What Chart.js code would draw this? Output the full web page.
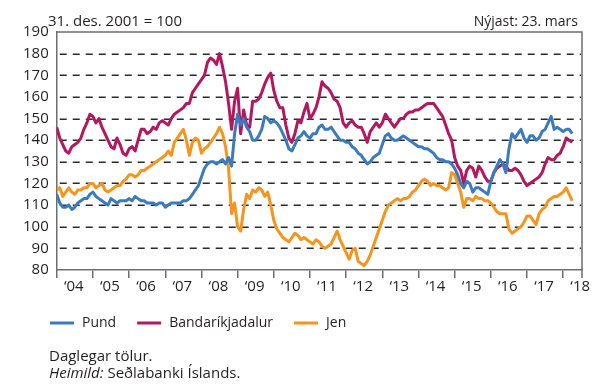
<!DOCTYPE html>
<html lang="is">
<head>
<meta charset="utf-8">
<script src="https://cdn.jsdelivr.net/npm/chart.js@4.4.1/dist/chart.umd.min.js"></script>
<style>
  html, body { margin: 0; padding: 0; background: #fff; }
  #wrap { width: 592px; height: 385px; }
</style>
</head>
<body>
<div id="wrap"><canvas id="gengi" width="592" height="385"></canvas></div>
<script>
// Mánaðargildi frá janúar 2004, vísitala (31. des. 2001 = 100)
var upphafsAr = 2004;

var pund = [
  115,111,109,109,110,108,109,111,112,113,113,115,
  116,114,113,112,111,110,113,112,111,112,112,112,
  113,112,114,113,112,112,111,111,111,110,111,111,
  109,110,111,111,111,111,112,112,113,115,117,119,
  123,127,129,130,130,129,130,131,129,132,128,143,
  152,147,150,146,144,140,140,142,145,151,150,148,
  149,148,146,143,140,136,135,138,141,142,144,142,
  141,143,143,146,147,145,145,146,144,142,140,140,
  139,139,137,136,134,133,131,129,130,132,133,134,
  138,142,143,141,140,140,141,142,141,140,139,138,
  137,137,136,136,135,134,132,131,131,130,130,129,
  127,124,120,118,121,120,116,118,118,117,116,115,
  121,125,128,131,129,125,136,143,141,143,145,141,
  139,142,142,140,141,144,145,148,151,145,146,145,
  144,145,145,143
];

var dollar = [
  146,141,138,135,134,137,138,139,141,145,148,152,
  151,148,150,146,143,140,137,136,141,138,134,133,
  136,137,135,140,145,145,143,144,146,145,148,149,
  148,147,150,152,153,154,155,157,157,162,164,166,
  168,170,176,178,177,175,180,174,167,157,145,158,
  164,143,154,147,146,158,158,159,162,166,169,171,
  163,158,155,155,147,141,139,143,149,148,153,157,
  150,152,155,160,167,165,164,162,159,158,155,148,
  146,148,149,147,146,146,143,139,144,146,148,146,
  148,152,150,148,146,148,150,150,152,153,153,154,
  154,155,156,157,157,157,155,153,151,147,143,140,
  132,128,126,120,126,128,127,123,128,126,123,121,
  121,125,127,128,129,128,126,126,127,126,124,121,
  119,120,121,122,123,125,129,132,131,131,133,134,
  137,141,140,139
];

var jen = [
  117,118,114,116,118,116,115,117,117,118,118,120,
  120,118,119,120,117,116,117,118,119,119,121,122,
  124,124,123,124,126,126,127,128,129,130,131,132,
  133,135,133,139,141,143,145,140,133,139,141,140,
  134,136,137,139,141,143,146,143,137,127,106,111,
  100,98,108,115,113,117,116,118,117,114,116,110,
  103,99,97,95,94,93,95,97,96,94,95,94,
  93,92,94,93,91,90,91,92,95,98,94,91,
  88,85,89,90,84,83,82,84,87,91,95,99,
  103,107,110,111,112,113,112,113,113,114,116,117,
  119,121,122,121,119,120,119,119,118,117,118,125,
  124,120,116,109,113,113,112,114,113,113,112,112,
  111,109,107,106,106,106,99,97,98,99,100,102,
  105,105,103,101,106,108,109,112,113,114,114,115,
  116,118,115,112
];

var arMerki = [2004,2005,2006,2007,2008,2009,2010,2011,2012,2013,2014,2015,2016,2017,2018];
var heiti = ["Pund", "Bandaríkjadalur", "Jen"];
var litir = ["#3a7bbf", "#b5175e", "#f7941e"];

var grunnur = "31. des. 2001 = 100";
var nyjast = "Nýjast: 23. mars";
var skyring = "Daglegar tölur.";

var letur = '"Open Sans", "DejaVu Sans", sans-serif';
var textalitur = "#231f20";
var asalitur = "#6d6e71";

function punktar(gildi) {
  return gildi.map(function(v, i) { return { x: upphafsAr + i / 12, y: v }; });
}

// Strikaðar hjálparlínur undir ferlunum, teiknaðar strik fyrir strik
var hjalparlinur = {
  id: "hjalparlinur",
  beforeDatasetsDraw: function(chart) {
    var ctx = chart.ctx, a = chart.chartArea, y = chart.scales.y;
    ctx.save();
    ctx.fillStyle = "#2a2a2a";
    for (var v = y.min + 10; v < y.max; v += 10) {
      var py = Math.round(y.getPixelForValue(v));
      for (var px = a.left + 3; px < a.right - 2; px += 13) {
        ctx.fillRect(px, py - 0.5, Math.min(7, a.right - 1 - px), 1.5);
      }
    }
    ctx.restore();
  }
};

// Rammi utan um teiknisvæðið, skýringar, yfirskriftir og heimild
var rammi = {
  id: "rammi",
  afterDraw: function(chart) {
    var ctx = chart.ctx, a = chart.chartArea;
    ctx.save();
    ctx.strokeStyle = asalitur;
    ctx.lineWidth = 1.5;
    ctx.beginPath();
    ctx.moveTo(a.left, a.top);
    ctx.lineTo(a.right, a.top);
    ctx.lineTo(a.right, a.bottom + 8);
    ctx.stroke();

    ctx.fillStyle = textalitur;
    ctx.textBaseline = "alphabetic";
    ctx.font = "15px " + letur;
    ctx.textAlign = "left";
    ctx.fillText(grunnur, 48, 26);
    ctx.font = "14px " + letur;
    ctx.textAlign = "right";
    ctx.fillText(nyjast, 578, 26);

    // skýringar undir myndinni
    var x = 50, yy = 323;
    ctx.textAlign = "left";
    ctx.textBaseline = "middle";
    ctx.font = "14px " + letur;
    chart.data.datasets.forEach(function(ds) {
      ctx.fillStyle = ds.borderColor;
      ctx.fillRect(x, yy - 1.5, 24, 3);
      ctx.fillStyle = textalitur;
      ctx.fillText(ds.label, x + 32, yy);
      x += 32 + ctx.measureText(ds.label).width + 21;
    });

    ctx.textBaseline = "alphabetic";
    ctx.font = "15px " + letur;
    ctx.fillText(skyring, 49, 361);
    ctx.font = "italic 15px " + letur;
    ctx.fillText("Heimild:", 49, 378);
    var w = ctx.measureText("Heimild: ").width;
    ctx.font = "15px " + letur;
    ctx.fillText("Seðlabanki Íslands.", 49 + w, 378);
    ctx.restore();
  }
};

new Chart(document.getElementById("gengi"), {
  type: "line",
  data: {
    datasets: [
      { label: heiti[0], data: punktar(pund), borderColor: litir[0], backgroundColor: litir[0] },
      { label: heiti[1], data: punktar(dollar), borderColor: litir[1], backgroundColor: litir[1] },
      { label: heiti[2], data: punktar(jen), borderColor: litir[2], backgroundColor: litir[2] }
    ]
  },
  options: {
    responsive: false,
    animation: false,
    layout: { padding: { left: 15, right: 10, top: 32, bottom: 89 } },
    elements: {
      line: { borderWidth: 3, tension: 0, borderJoinStyle: "round" },
      point: { radius: 0 }
    },
    plugins: {
      legend: { display: false },
      tooltip: { enabled: false }
    },
    scales: {
      x: {
        type: "linear",
        min: 2004,
        max: 2018.52,
        afterBuildTicks: function(scale) {
          scale.ticks = arMerki.map(function(v) { return { value: v }; });
        },
        ticks: {
          autoSkip: false,
          maxRotation: 0,
          labelOffset: 17,
          padding: 0,
          color: textalitur,
          font: { family: letur, size: 15 },
          callback: function(v) { return "\u2018" + String(v).slice(2); }
        },
        grid: { drawOnChartArea: false, tickLength: 8, color: asalitur, lineWidth: 1.5 },
        border: { color: asalitur, width: 1.5 }
      },
      y: {
        min: 80,
        max: 190,
        ticks: {
          stepSize: 10,
          padding: 8,
          color: textalitur,
          font: { family: letur, size: 15 }
        },
        grid: { display: false, drawTicks: false },
        border: { color: asalitur, width: 1.5 }
      }
    }
  },
  plugins: [hjalparlinur, rammi]
});
</script>
</body>
</html>
